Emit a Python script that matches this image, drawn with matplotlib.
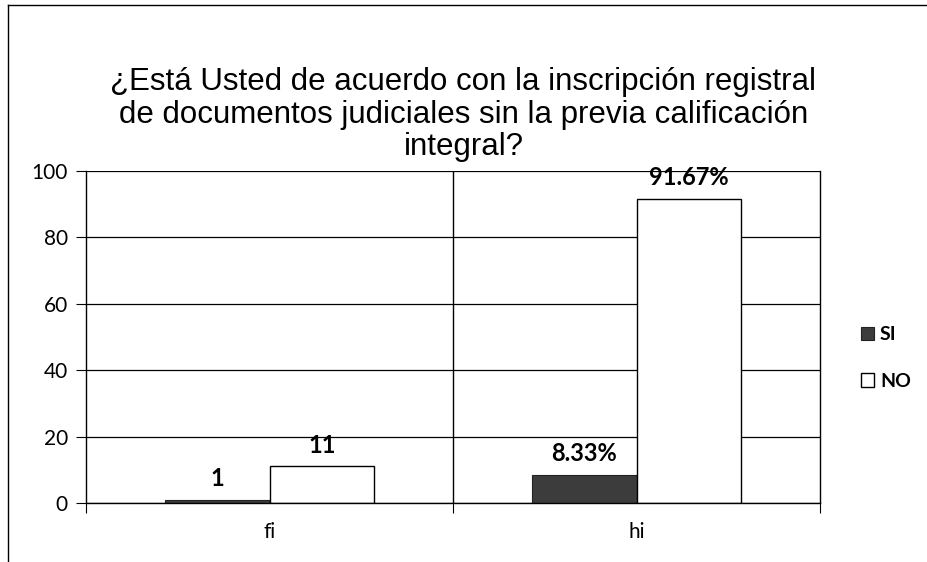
import matplotlib.pyplot as plt
import numpy as np
from matplotlib.lines import Line2D

categories = ["fi", "hi"]
si_values = [1, 8.33]
no_values = [11, 91.67]
si_labels = ["1", "8.33%"]
no_labels = ["11", "91.67%"]
yticks = [0, 20, 40, 60, 80, 100]
title = "¿Está Usted de acuerdo con la inscripción registral\nde documentos judiciales sin la previa calificación\nintegral?"

fig = plt.figure(figsize=(9.27, 5.62), dpi=100)
ax = fig.add_axes([86/927, 1 - 503/562, (820-86)/927, (503-171)/562])

x = np.arange(len(categories))
w = 0.285
b1 = ax.bar(x - w/2, si_values, w, color="#3c3c3c", edgecolor="#222222", linewidth=0.8, label="SI")
b2 = ax.bar(x + w/2, no_values, w, color="white", edgecolor="black", linewidth=1.0, label="NO")

lblfont = dict(family="Lato", fontsize=17, fontweight="bold")
for rect, t in zip(b1, si_labels):
    ax.text(rect.get_x() + rect.get_width()/2, rect.get_height() + 3, t, ha="center", va="bottom", **lblfont)
for rect, t in zip(b2, no_labels):
    ax.text(rect.get_x() + rect.get_width()/2, rect.get_height() + 3, t, ha="center", va="bottom", **lblfont)

ax.set_xlim(-0.5, 1.5)
ax.set_ylim(0, 100)
ax.set_yticks(yticks)
ax.set_yticklabels([str(v) for v in yticks], family="Lato", fontsize=15)
ax.set_xticks([-0.5, 0.5, 1.5], minor=False)
ax.set_xticklabels([])
ax.set_xticks(x, minor=True)
ax.set_xticklabels(categories, minor=True, family="Lato", fontsize=15)
ax.tick_params(axis="x", which="minor", length=0, pad=14)
ax.tick_params(axis="x", which="major", length=7, direction="out", color="black")
ax.tick_params(axis="y", length=7, direction="out", pad=6)
ax.grid(axis="y", color="black", linewidth=0.9)
ax.axvline(0.5, color="black", linewidth=1.0)
ax.set_axisbelow(True)
ax.spines["top"].set_visible(False)
for s in ["left", "right", "bottom"]:
    ax.spines[s].set_linewidth(1.0)

fig.text(0.5, 1 - 162/562, title, ha="center", va="bottom", family="Liberation Sans", fontsize=22.5, linespacing=1.1)

fig.legend(handles=[b1, b2], labels=["SI", "NO"], loc="center left", bbox_to_anchor=(843/927, 1 - 358/562),
           frameon=False, prop=dict(family="Lato", weight="bold", size=14),
           handlelength=0.7, handleheight=0.7, handletextpad=0.3, labelspacing=1.5)

# outer chart frame (left and top edges visible in the scan)
fig.add_artist(Line2D([8/927, 8/927], [0, 1 - 5/562], transform=fig.transFigure, color="black", linewidth=1.0))
fig.add_artist(Line2D([8/927, 1], [1 - 5/562, 1 - 5/562], transform=fig.transFigure, color="black", linewidth=1.0))

fig.savefig("out.png", dpi=100)
